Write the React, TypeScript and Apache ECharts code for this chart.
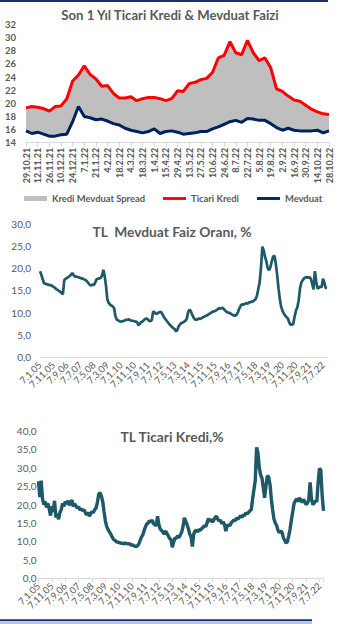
import React, { useEffect, useRef } from "react";
import * as echarts from "echarts";

const weeks = [
  "29.10.21", "5.11.21", "12.11.21", "19.11.21", "26.11.21", "3.12.21", "10.12.21", "17.12.21", "24.12.21", "31.12.21",
  "7.1.22", "14.1.22", "21.1.22", "28.1.22", "4.2.22", "11.2.22", "18.2.22", "25.2.22", "4.3.22", "11.3.22",
  "18.3.22", "25.3.22", "1.4.22", "8.4.22", "15.4.22", "22.4.22", "29.4.22", "6.5.22", "13.5.22", "20.5.22",
  "27.5.22", "3.6.22", "10.6.22", "17.6.22", "24.6.22", "1.7.22", "8.7.22", "15.7.22", "22.7.22", "29.7.22",
  "5.8.22", "12.8.22", "19.8.22", "26.8.22", "2.9.22", "9.9.22", "16.9.22", "23.9.22", "30.9.22", "7.10.22",
  "14.10.22", "21.10.22", "28.10.22",
];

const ticariKrediWeekly = [
  19.3, 19.5, 19.4, 19.2, 18.8, 19.5, 19.6, 20.7, 23.4, 24.3,
  25.7, 24.4, 23.7, 22.6, 22.7, 21.5, 20.8, 20.8, 21.0, 20.4,
  20.7, 20.9, 20.9, 20.7, 20.4, 20.7, 21.9, 21.8, 23.0, 23.2,
  23.6, 23.8, 24.7, 26.9, 27.3, 29.4, 27.7, 27.4, 29.6, 27.7,
  26.5, 26.9, 25.4, 22.2, 21.8, 21.1, 20.5, 20.3, 19.7, 19.1,
  18.7, 18.4, 18.3,
];

const mevduatWeekly = [
  15.8, 15.4, 15.6, 15.3, 15.0, 15.0, 15.2, 15.3, 17.2, 19.5,
  18.0, 17.8, 17.5, 17.6, 17.3, 16.9, 16.7, 16.2, 15.9, 15.7,
  15.5, 15.7, 16.1, 15.4, 15.7, 15.8, 15.6, 15.3, 15.4, 15.5,
  15.7, 15.7, 16.1, 16.4, 16.8, 17.2, 17.4, 17.1, 17.7, 17.6,
  17.4, 17.4, 16.9, 16.3, 15.9, 16.2, 15.9, 15.8, 15.8, 15.8,
  15.9, 15.5, 15.8,
];

// Monthly categories Jan 2005 .. Oct 2022 (labelled on the 7th)
const months: string[] = [];
for (let y = 2005; y <= 2022; y++) {
  for (let m = 1; m <= 12; m++) {
    if (y === 2022 && m > 10) break;
    months.push(`7.${m}.${String(y % 100).padStart(2, "0")}`);
  }
}

const mevduatMonthly = [
  19.3, 18.5, 17.5, 16.6, 16.5, 16.4, 16.3, 16.2, 16.2, 16.0,
  15.8, 15.6, 15.3, 15.1, 14.9, 14.7, 14.4, 14.1, 17.3, 17.6,
  17.8, 18.0, 18.2, 18.5, 18.9, 18.4, 18.1, 18.1, 18.0, 17.9,
  17.8, 17.7, 17.6, 17.4, 17.3, 17.0, 16.6, 16.2, 16.1, 16.3,
  16.2, 16.8, 17.5, 17.6, 17.7, 17.8, 18.3, 19.6, 18.2, 16.0,
  12.9, 12.2, 11.8, 11.6, 11.4, 11.0, 9.2, 8.4, 8.3, 8.1,
  8.0, 8.1, 8.1, 8.3, 8.4, 8.4, 8.5, 8.3, 8.2, 8.2,
  8.1, 8.0, 7.9, 7.2, 7.5, 7.9, 8.0, 8.3, 8.6, 8.7,
  8.5, 8.2, 8.1, 8.4, 10.3, 10.1, 9.7, 9.8, 10.0, 10.2,
  10.1, 9.6, 9.0, 8.6, 8.2, 7.8, 7.4, 7.1, 6.8, 6.5,
  6.3, 5.8, 6.2, 7.0, 7.4, 7.7, 7.8, 8.0, 8.2, 8.7,
  10.2, 10.7, 10.3, 9.5, 8.9, 8.5, 8.4, 8.5, 8.7, 8.6,
  8.8, 9.0, 9.1, 9.3, 9.4, 9.6, 9.8, 10.0, 10.2, 10.3,
  10.4, 10.6, 10.8, 11.0, 10.9, 11.1, 11.0, 10.6, 10.3, 10.1,
  10.0, 9.9, 9.7, 9.5, 9.4, 9.3, 9.6, 10.2, 11.0, 11.6,
  11.9, 11.8, 12.0, 12.1, 12.0, 12.3, 12.3, 12.5, 12.5, 12.8,
  13.0, 13.8, 15.3, 16.8, 20.0, 24.8, 24.0, 22.5, 21.5, 20.0,
  19.5, 20.2, 21.5, 22.6, 22.8, 21.0, 18.5, 15.5, 13.0, 11.3,
  10.4, 9.8, 9.3, 9.0, 8.7, 7.8, 7.3, 7.3, 7.5, 9.2,
  10.5, 11.2, 12.8, 15.5, 16.8, 17.3, 17.7, 17.9, 18.0, 17.8,
  18.0, 17.6, 16.5, 15.2, 19.3, 17.0, 15.4, 15.6, 15.9, 15.7,
  17.6, 16.8, 15.6, 15.5,
];

const ticariKrediMonthly = [
  26.3, 22.0, 26.5, 21.5, 20.0, 20.8, 19.2, 20.3, 18.8, 17.0,
  19.5, 18.0, 21.0, 16.5, 17.5, 16.0, 17.8, 18.6, 20.3, 19.5,
  20.8, 20.2, 21.0, 19.8, 20.5, 21.2, 19.5, 20.2, 19.6, 19.0,
  19.4, 18.5, 18.9, 18.3, 18.6, 17.8, 17.2, 17.9, 16.8, 17.5,
  18.1, 17.8, 18.6, 19.0, 20.5, 22.8, 23.2, 22.3, 20.8, 18.0,
  15.5, 14.0, 13.2, 12.6, 12.0, 11.2, 10.6, 10.3, 10.0, 9.8,
  9.7, 9.6, 9.5, 9.5, 9.3, 9.6, 9.4, 9.3, 9.4, 9.0,
  9.1, 8.9, 8.7, 8.6, 8.8, 9.3, 10.3, 11.2, 11.8, 13.0,
  14.0, 14.8, 15.0, 15.6, 15.2, 15.8, 14.8, 14.6, 14.2, 16.8,
  14.5, 13.3, 13.0, 12.5, 12.0, 12.8, 12.2, 11.5, 10.8, 10.5,
  8.4, 9.8, 11.0, 10.8, 11.5, 11.0, 11.8, 12.5, 14.0, 16.4,
  15.5, 14.6, 13.5, 12.0, 11.3, 8.6, 12.0, 12.8, 13.0, 12.6,
  13.2, 13.0, 13.5, 13.8, 14.3, 14.0, 15.0, 16.2, 15.4, 16.0,
  15.2, 15.8, 16.5, 16.8, 16.0, 15.5, 15.8, 14.8, 15.3, 14.6,
  12.8, 14.2, 14.5, 14.2, 15.0, 15.4, 15.8, 15.6, 16.3, 16.0,
  16.5, 16.9, 16.5, 17.2, 16.9, 17.8, 17.4, 17.9, 18.3, 18.6,
  21.5, 24.0, 26.5, 35.5, 34.0, 30.0, 28.0, 27.2, 24.5, 21.8,
  25.0, 27.8, 27.5, 25.5, 21.5, 18.5, 16.0, 15.0, 14.3, 13.0,
  12.4, 12.8, 12.5, 11.0, 10.3, 9.6, 9.9, 11.5, 13.3, 15.8,
  18.0, 20.3, 21.0, 21.6, 20.8, 21.8, 21.2, 20.6, 21.4, 20.7,
  20.0, 20.4, 21.3, 26.0, 21.5, 20.0, 20.4, 21.0, 20.8, 26.0,
  29.8, 29.3, 22.5, 18.3,
];

const spreadWeekly = ticariKrediWeekly.map((v, i) => +(v - mevduatWeekly[i]).toFixed(2));

const FONT = "Lato, 'Open Sans', sans-serif";
const GREY_TEXT = "#595959";
const TEAL = "#1f5968";
const LINE_ICON = "path://M0,0L24,0L24,3L0,3Z";
const LABEL_EVERY = 10;

const comma = (v: number) => v.toFixed(1).replace(".", ",");

export default function App() {
  const ref = useRef<HTMLDivElement>(null);
  useEffect(() => {
    if (!ref.current) return;
    const chart = echarts.init(ref.current, undefined, { renderer: "svg" });
    const monthLabel = {
      interval: 0, rotate: 45, fontSize: 9.5, color: GREY_TEXT, margin: 6, fontFamily: FONT,
      formatter: (v: string, i: number) => (i % LABEL_EVERY === 0 ? v : ""),
    };
    chart.setOption({
      animation: false,
      backgroundColor: "#ffffff",
      textStyle: { fontFamily: FONT },
      graphic: [
        { type: "rect", shape: { x: 0, y: 0, width: 328, height: 2 }, style: { fill: "#1f2d6b" } },
        { type: "rect", shape: { x: 0, y: 619.3, width: 312, height: 2 }, style: { fill: "#1f2d6b" } },
        { type: "rect", shape: { x: 0, y: 621.3, width: 312, height: 2.7 }, style: { fill: "#b4c6e7" } },
        {
          type: "text", x: 170, y: 15,
          style: { text: "Son 1 Yıl Ticari Kredi & Mevduat Faizi", font: `bold 13.2px ${FONT}`, fill: GREY_TEXT, textAlign: "center", textVerticalAlign: "middle" },
        },
        {
          type: "text", x: 172, y: 231,
          style: { text: "TL  Mevduat Faiz Oranı, %", font: `bold 13.8px ${FONT}`, fill: GREY_TEXT, textAlign: "center", textVerticalAlign: "middle" },
        },
        {
          type: "text", x: 172, y: 436,
          style: { text: "TL Ticari Kredi,%", font: `bold 13.8px ${FONT}`, fill: GREY_TEXT, textAlign: "center", textVerticalAlign: "middle" },
        },
      ],
      legend: {
        left: 19,
        top: 189,
        itemWidth: 23,
        itemHeight: 5,
        itemGap: 18,
        symbolKeepAspect: true,
        textStyle: { fontFamily: FONT, fontSize: 9.4, fontWeight: "bold", color: GREY_TEXT },
        data: [
          { name: "Kredi Mevduat Spread", icon: "rect" },
          { name: "Ticari Kredi", icon: LINE_ICON },
          { name: "Mevduat", icon: LINE_ICON },
        ],
      },
      grid: [
        { left: 26, right: 9, top: 24.5, height: 118.2 },
        { left: 40, right: 11, top: 223.5, height: 133.8 },
        { left: 38.5, right: 14.5, top: 430.7, height: 147.6 },
      ],
      xAxis: [
        {
          type: "category", gridIndex: 0, data: weeks, boundaryGap: false,
          axisLine: { lineStyle: { color: "#d9d9d9" } },
          axisTick: { show: true, interval: 1, length: 4, lineStyle: { color: "#d9d9d9" } },
          axisLabel: { interval: 1, rotate: 90, fontSize: 9, fontWeight: "bold", color: GREY_TEXT, margin: 5, fontFamily: FONT },
        },
        {
          type: "category", gridIndex: 1, data: months, boundaryGap: false,
          axisLine: { lineStyle: { color: "#d9d9d9" } },
          axisTick: { show: false },
          axisLabel: monthLabel,
        },
        {
          type: "category", gridIndex: 2, data: months, boundaryGap: false,
          axisLine: { lineStyle: { color: "#d9d9d9" } },
          axisTick: { show: true, interval: LABEL_EVERY - 1, length: 4, lineStyle: { color: "#d9d9d9" } },
          axisLabel: monthLabel,
        },
      ],
      yAxis: [
        {
          type: "value", gridIndex: 0, min: 14, max: 32, interval: 2,
          splitLine: { show: false }, axisLine: { show: false }, axisTick: { show: false },
          axisLabel: { fontSize: 9.5, fontWeight: "bold", color: GREY_TEXT, margin: 10, fontFamily: FONT },
        },
        {
          type: "value", gridIndex: 1, min: 0, max: 30, interval: 5,
          splitLine: { show: false }, axisLine: { show: false }, axisTick: { show: false },
          axisLabel: { fontSize: 10, color: GREY_TEXT, margin: 9, formatter: comma, fontFamily: FONT },
        },
        {
          type: "value", gridIndex: 2, min: 0, max: 40, interval: 5,
          splitLine: { show: false }, axisLine: { show: false }, axisTick: { show: false },
          axisLabel: { fontSize: 10, color: GREY_TEXT, margin: 2, formatter: comma, fontFamily: FONT },
        },
      ],
      series: [
        {
          name: "base", type: "line", xAxisIndex: 0, yAxisIndex: 0, data: mevduatWeekly, stack: "sp",
          symbol: "none", lineStyle: { width: 0, opacity: 0 }, silent: true, z: 1,
        },
        {
          name: "Kredi Mevduat Spread", type: "line", xAxisIndex: 0, yAxisIndex: 0, data: spreadWeekly, stack: "sp",
          symbol: "none", lineStyle: { width: 0, opacity: 0 }, itemStyle: { color: "#bfbfbf" },
          areaStyle: { color: "#bfbfbf", opacity: 1 }, silent: true, z: 1,
        },
        {
          name: "Ticari Kredi", type: "line", xAxisIndex: 0, yAxisIndex: 0, data: ticariKrediWeekly,
          symbol: "none", itemStyle: { color: "#ff0000" }, lineStyle: { color: "#ff0000", width: 3 }, z: 3,
        },
        {
          name: "Mevduat", type: "line", xAxisIndex: 0, yAxisIndex: 0, data: mevduatWeekly,
          symbol: "none", itemStyle: { color: "#002060" }, lineStyle: { color: "#002060", width: 3 }, z: 3,
        },
        {
          name: "TL Mevduat", type: "line", xAxisIndex: 1, yAxisIndex: 1, data: mevduatMonthly,
          symbol: "none", itemStyle: { color: TEAL }, lineStyle: { color: TEAL, width: 2.7 },
        },
        {
          name: "TL Ticari Kredi", type: "line", xAxisIndex: 2, yAxisIndex: 2, data: ticariKrediMonthly,
          symbol: "none", itemStyle: { color: TEAL }, lineStyle: { color: TEAL, width: 3.4 },
        },
      ],
    });
    return () => chart.dispose();
  }, []);
  return <div ref={ref} style={{ position: "fixed", left: 0, top: 0, width: 338, height: 624 }} />;
}
